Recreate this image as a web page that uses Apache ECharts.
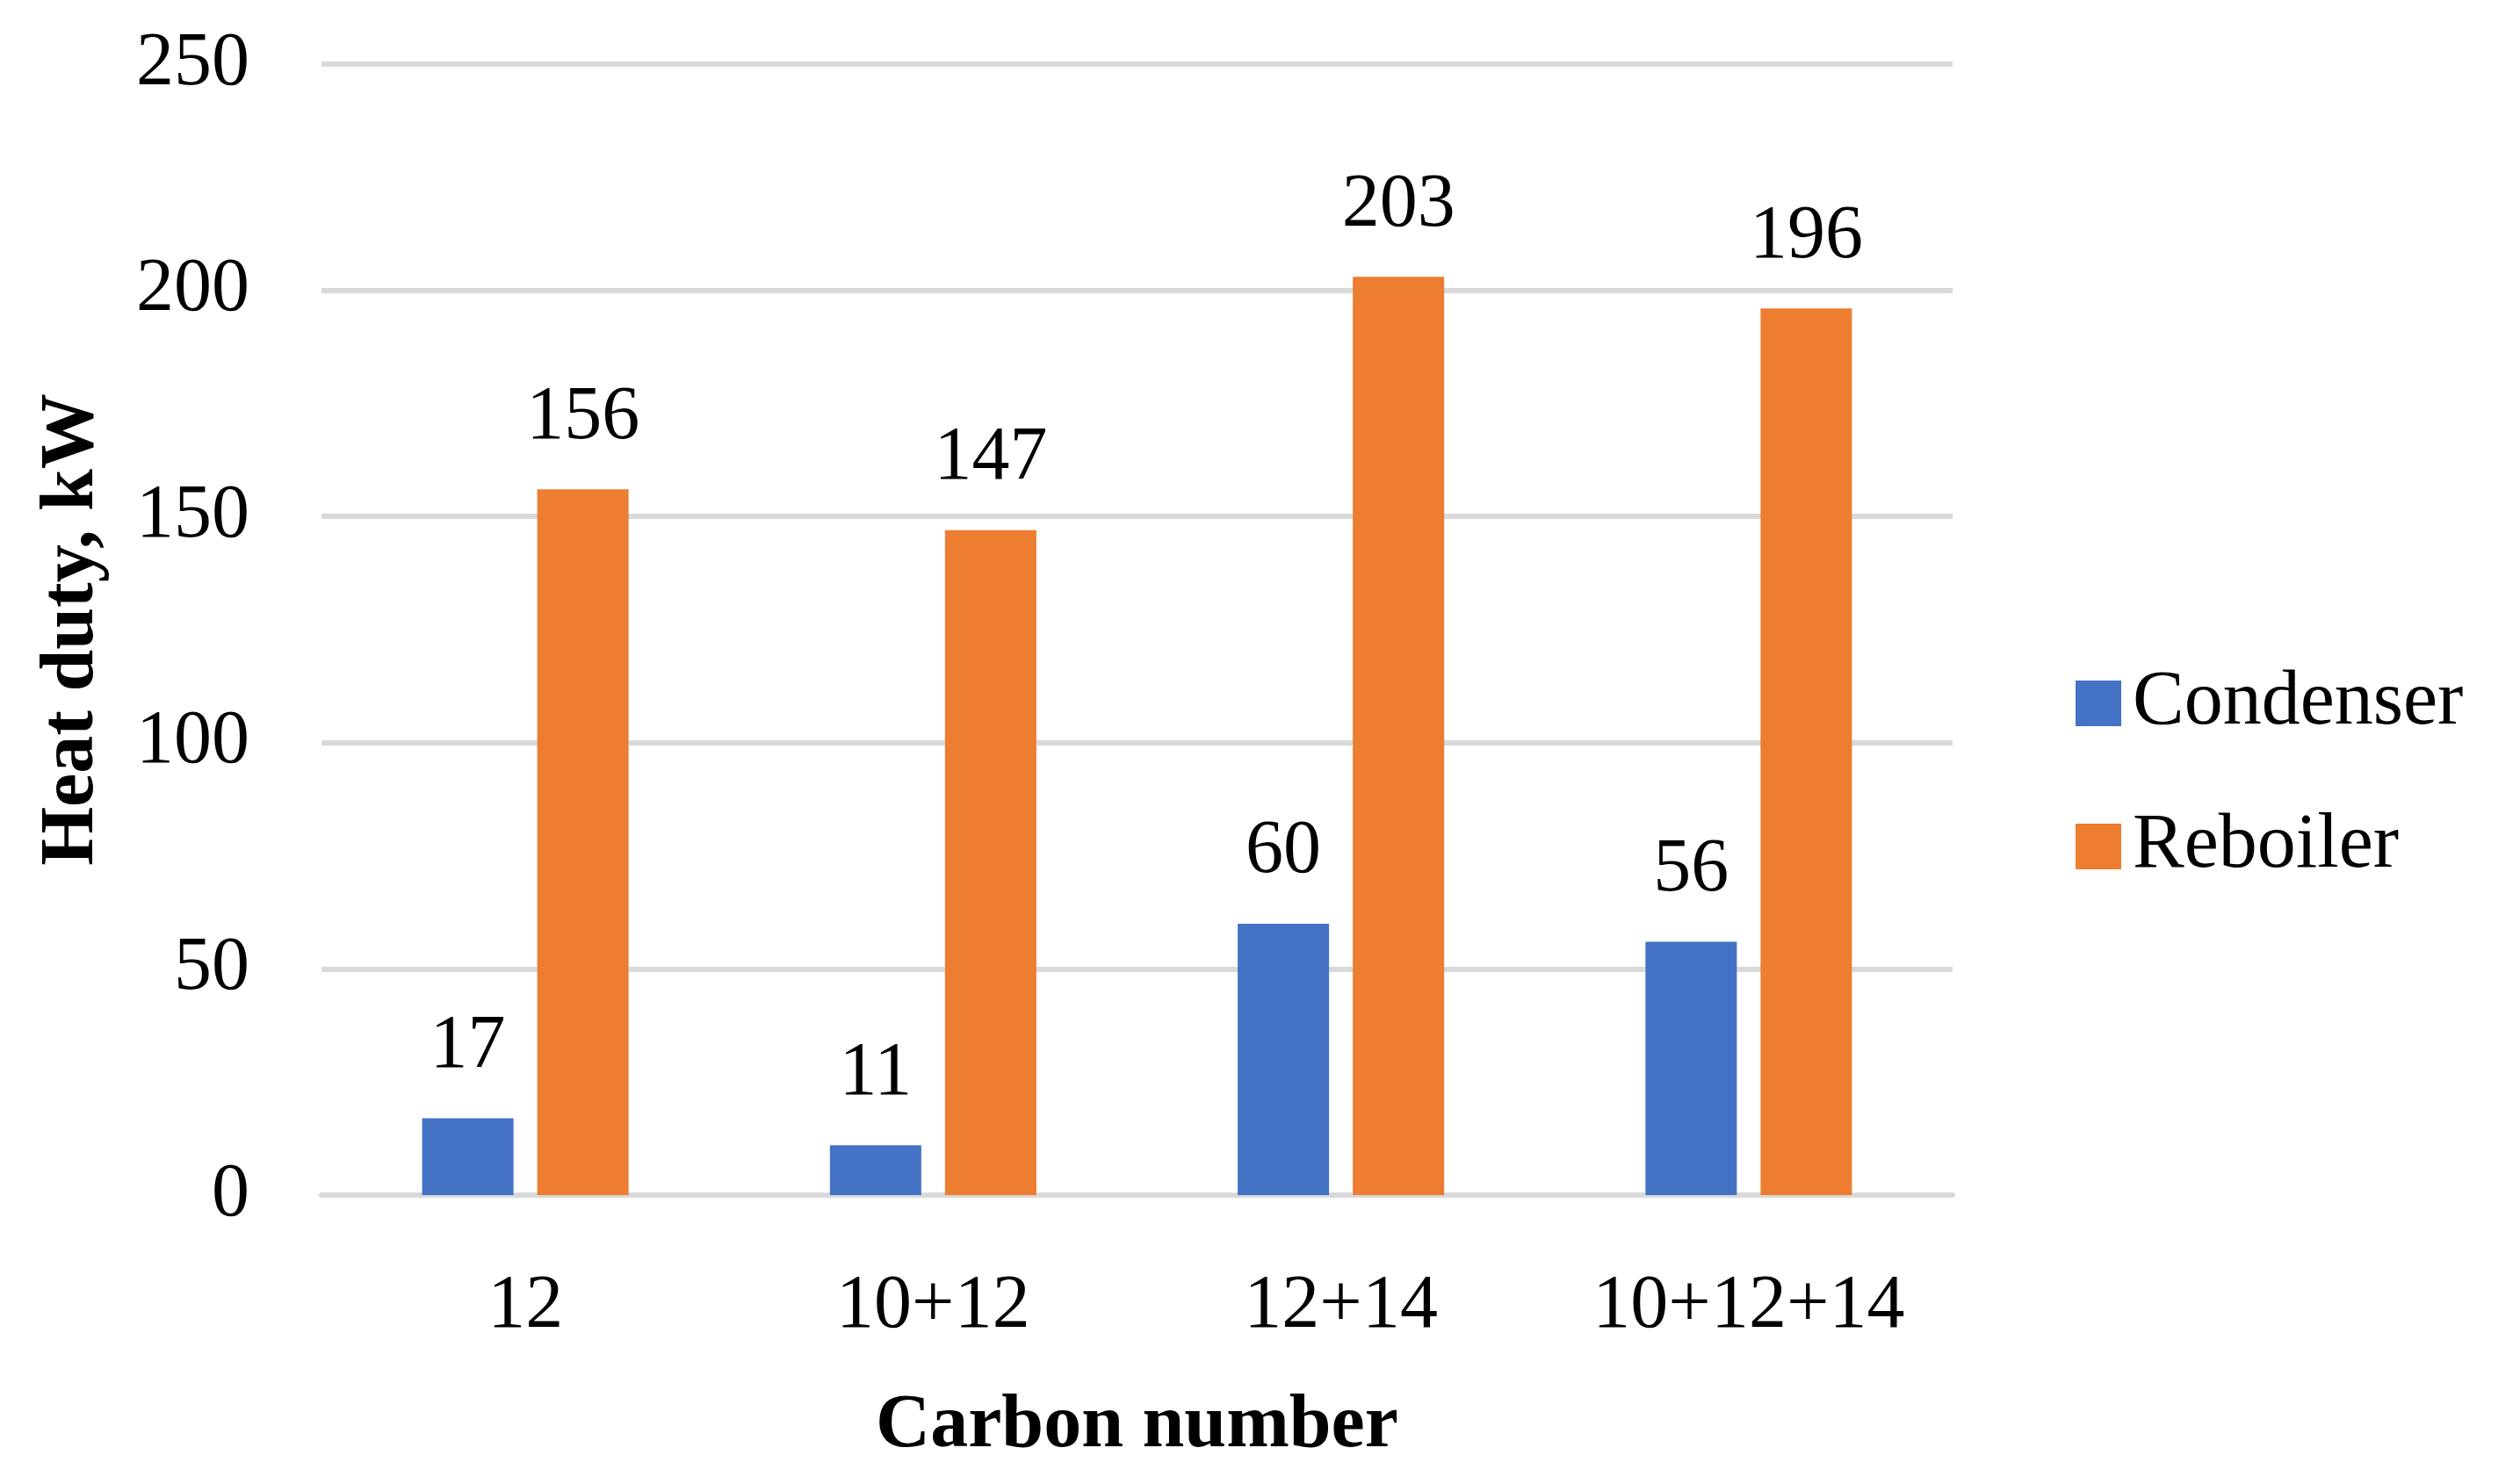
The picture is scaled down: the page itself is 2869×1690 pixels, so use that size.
<!DOCTYPE html>
<html>
<head>
<meta charset="utf-8">
<script src="https://cdn.jsdelivr.net/npm/echarts@6/dist/echarts.min.js"></script>
<style>
html,body{margin:0;padding:0;background:#fff;}
#chart{width:2869px;height:1690px;}
</style>
</head>
<body>
<div id="chart"></div>
<script>
const categories = ['12', '10+12', '12+14', '10+12+14'];
const condenser = [17, 11, 60, 56];
const reboiler = [156, 147, 203, 196];
const seriesNames = ['Condenser', 'Reboiler'];

const FONT = '"Liberation Serif", "DejaVu Serif", serif';
const FS = 86;

const chart = echarts.init(document.getElementById('chart'));
chart.setOption({
  backgroundColor: '#ffffff',
  animation: false,
  textStyle: { fontFamily: FONT, color: '#000' },
  grid: { left: 366, right: 646, top: 73, bottom: 329 },
  legend: {
    orient: 'vertical',
    left: 2358,
    top: 752,
    itemWidth: 52,
    itemHeight: 52,
    itemGap: 75,
    icon: 'rect',
    textStyle: { fontFamily: FONT, fontSize: 88, color: '#000', lineHeight: FS, padding: [0, 0, 0, 8] },
    data: seriesNames
  },
  xAxis: {
    type: 'category',
    data: categories,
    name: 'Carbon number',
    nameLocation: 'middle',
    nameGap: 221,
    nameTextStyle: { fontFamily: FONT, fontSize: FS, fontWeight: 'bold', color: '#000' },
    axisLine: { lineStyle: { color: '#D9D9D9', width: 6 } },
    axisTick: { show: false },
    axisLabel: { fontFamily: FONT, fontSize: FS, color: '#000', margin: 84, lineHeight: FS }
  },
  yAxis: {
    type: 'value',
    min: 0,
    max: 250,
    interval: 50,
    name: 'Heat duty, kW',
    nameLocation: 'middle',
    nameRotate: 90,
    nameGap: 240,
    nameTextStyle: { fontFamily: FONT, fontSize: FS, fontWeight: 'bold', color: '#000' },
    axisLine: { show: false },
    axisTick: { show: false },
    axisLabel: { fontFamily: FONT, fontSize: FS, color: '#000', margin: 82 },
    splitLine: { lineStyle: { color: '#D9D9D9', width: 6 } }
  },
  series: [
    {
      name: seriesNames[0],
      type: 'bar',
      data: condenser,
      barWidth: 104,
      barGap: '26%',
      itemStyle: { color: '#4472C4' },
      label: { show: true, position: 'top', distance: 38, fontFamily: FONT, fontSize: FS, color: '#000' }
    },
    {
      name: seriesNames[1],
      type: 'bar',
      data: reboiler,
      barWidth: 104,
      barGap: '26%',
      itemStyle: { color: '#ED7D31' },
      label: { show: true, position: 'top', distance: 38, fontFamily: FONT, fontSize: FS, color: '#000' }
    }
  ]
});
</script>
</body>
</html>
